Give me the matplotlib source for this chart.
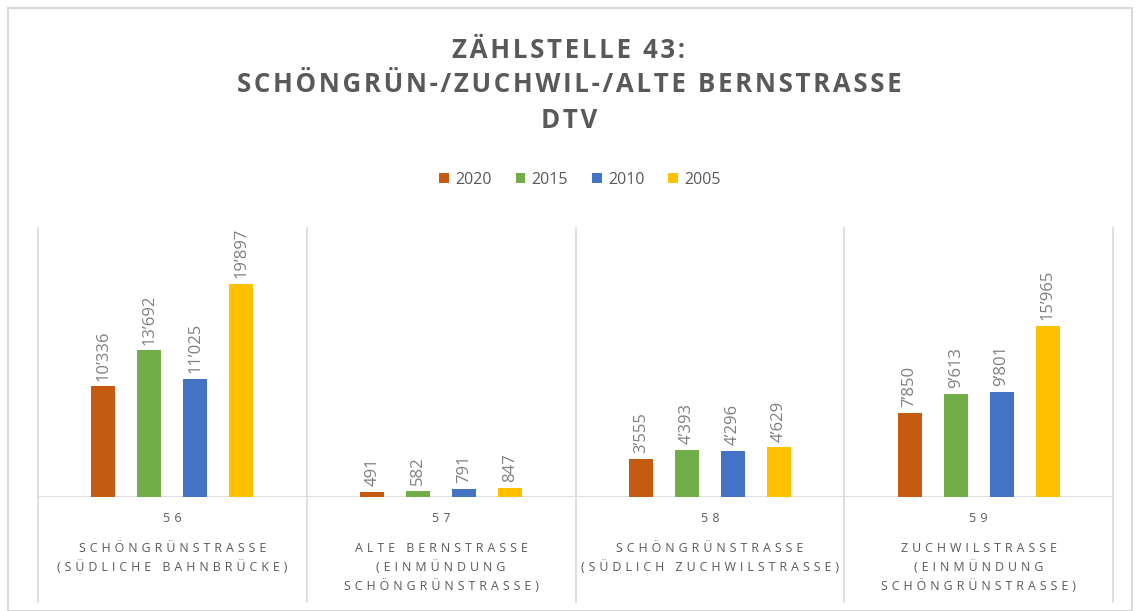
"""DTV Zählstelle 43 - Balkendiagramm nach Messstelle und Jahr"""

import matplotlib.pyplot as plt
import numpy as np
from matplotlib.patches import Patch, Rectangle

plt.rcParams["font.family"] = ["Open Sans", "DejaVu Sans"]

# --- Daten
stations = ["56", "57", "58", "59"]
streets = [
    "SCHÖNGRÜNSTRASSE\n(SÜDLICHE BAHNBRÜCKE)",
    "ALTE BERNSTRASSE\n(EINMÜNDUNG\nSCHÖNGRÜNSTRASSE)",
    "SCHÖNGRÜNSTRASSE\n(SÜDLICH ZUCHWILSTRASSE)",
    "ZUCHWILSTRASSE\n(EINMÜNDUNG\nSCHÖNGRÜNSTRASSE)",
]
years = ["2020", "2015", "2010", "2005"]
dtv_2020 = [10336, 491, 3555, 7850]
dtv_2015 = [13692, 582, 4393, 9613]
dtv_2010 = [11025, 791, 4296, 9801]
dtv_2005 = [19897, 847, 4629, 15965]

series = [dtv_2020, dtv_2015, dtv_2010, dtv_2005]
colors = ["#C55A11", "#70AD47", "#4472C4", "#FFC000"]
grey_txt = "#7f7f7f"
grey_line = "#d9d9d9"
title_col = "#595959"


def fmt(v: int) -> str:
    return f"{v:,}".replace(",", "\u2019")


def tracked(s: str, gap: str = "\u2009\u2009") -> str:
    # Sperrsatz: zwischen die Zeichen schmale Leerzeichen setzen
    return "\n".join(gap.join(line) for line in s.split("\n"))


W, H = 1138, 611
fig = plt.figure(figsize=(W / 100, H / 100), dpi=100)
fig.patch.set_facecolor("white")

# Rahmen um das ganze Diagramm
fig.add_artist(Rectangle((8 / W, 0), 1124 / W, 1 - 8 / H, transform=fig.transFigure,
                         fill=False, edgecolor=grey_line, linewidth=1.5))

ax_l, ax_r, ax_b, ax_t = 38, 1113, 497, 228
ax = fig.add_axes([ax_l / W, 1 - ax_b / H, (ax_r - ax_l) / W, (ax_b - ax_t) / H])
ax.set_xlim(-0.5, len(stations) - 0.5)
ax.set_ylim(0, 25100)
for s in ax.spines.values():
    s.set_visible(False)
ax.set_xticks([])
ax.set_yticks([])

x = np.arange(len(stations))
bw = 0.089
step = 0.171
offsets = (np.arange(len(series)) - 1.5) * step

for vals, col, off in zip(series, colors, offsets):
    bars = ax.bar(x + off, vals, width=bw, color=col, zorder=3)
    for b, v in zip(bars, vals):
        ax.annotate(fmt(v), (b.get_x() + b.get_width() / 2, v),
                    xytext=(0, 4), textcoords="offset points",
                    rotation=90, ha="center", va="bottom",
                    fontsize=12, color=grey_txt)

# Grundlinie und Trennlinien der Kategorien
ax.axhline(0, color=grey_line, linewidth=1.2, zorder=2)
sep_bottom = -(602 - ax_b) / (ax_b - ax_t)
for xs in np.arange(-0.5, len(stations), 1.0):
    ax.plot([xs, xs], [sep_bottom, 1.0], transform=ax.get_xaxis_transform(),
            color=grey_line, linewidth=1.2, clip_on=False)

# Kategorienbeschriftung (zweistufig)
for xi, st, name in zip(x, stations, streets):
    ax.annotate(tracked(st), (xi, 0), xycoords=("data", "axes fraction"),
                xytext=(0, -21 * 0.72), textcoords="offset points",
                ha="center", va="center", fontsize=9, color=title_col)
    ax.annotate(tracked(name), (xi, 0), xycoords=("data", "axes fraction"),
                xytext=(0, -45 * 0.72), textcoords="offset points",
                ha="center", va="top", fontsize=8.9, color=title_col,
                linespacing=1.45, multialignment="center")

# Titel
for yy, line in zip((50, 85, 120),
                    ("ZÄHLSTELLE 43:", "SCHÖNGRÜN-/ZUCHWIL-/ALTE BERNSTRASSE", "DTV")):
    fig.text(0.5, 1 - yy / H, tracked(line, "\u200a"), ha="center", va="center",
             fontsize=18.6, fontweight="bold", color=title_col)

handles = [Patch(facecolor=c, edgecolor="none") for c in colors]
fig.legend(handles, years, loc="center", bbox_to_anchor=(580 / W, 1 - 180 / H),
           ncol=4, frameon=False, fontsize=11.5, labelcolor=title_col,
           handlelength=0.6, handleheight=0.6, handletextpad=0.4,
           columnspacing=1.5)

fig.savefig("out.png", dpi=100)
